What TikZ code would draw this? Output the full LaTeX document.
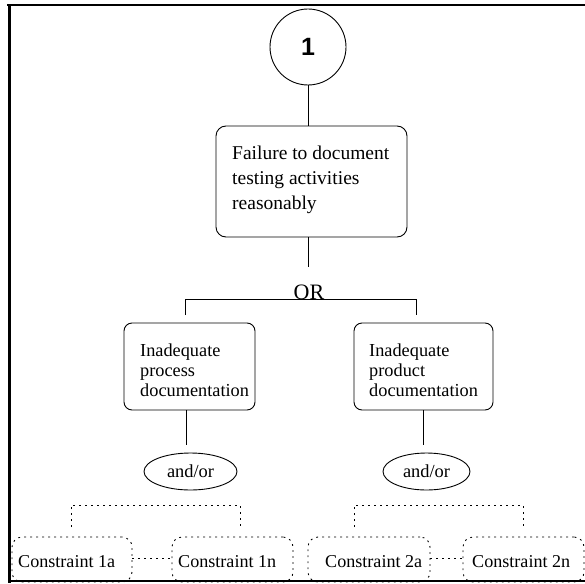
\documentclass[tikz,border=0pt]{standalone}
\usepackage{fontspec}
\setmainfont{Liberation Serif}
\newfontfamily\headsans{Liberation Sans}
\usetikzlibrary{shapes.geometric}

\tikzset{
  wire/.style={draw, line width=0.9pt},
  dotwire/.style={draw, line width=0.9pt, dash pattern=on 1.8pt off 4.2pt},
  goalbox/.style={draw, line width=0.9pt, rounded corners=10pt, inner sep=0pt},
  subbox/.style={draw, line width=0.9pt, rounded corners=8pt, inner sep=0pt},
  consbox/.style={draw, line width=0.9pt, dash pattern=on 1.8pt off 4.2pt,
                  rounded corners=10pt, inner sep=0pt},
  gate/.style={draw, ellipse, line width=0.9pt, inner sep=0pt,
               font=\fontsize{18.4}{20}\selectfont},
  bigtext/.style={inner sep=0pt, align=left,
                  font=\fontsize{19.5}{25}\selectfont},
  midtext/.style={inner sep=0pt, align=left,
                  font=\fontsize{18.3}{20.3}\selectfont},
  constext/.style={inner sep=0pt, font=\fontsize{18.1}{20}\selectfont},
  frameline/.style={draw, line cap=rect},
}

\begin{document}
\begin{tikzpicture}[x=1pt,y=-1pt]
\useasboundingbox (0,0) rectangle (585,583);

% top event
\node[draw, circle, line width=0.9pt, minimum size=76pt, inner sep=0pt,
      font=\headsans\bfseries\fontsize{25}{28}\selectfont] (top) at (308,47) {1};

% main failure box
\node[goalbox, minimum width=191pt, minimum height=111pt] (goal) at (311.5,181.5) {};
\node[bigtext, anchor=north west] (goaltxt) at (232,145.5)
  {Failure to document\\testing activities\\reasonably};

% OR gate
\node[inner sep=0pt, anchor=base, font=\fontsize{22}{24}\selectfont] (orgate) at (309,299.5) {OR};
\coordinate (orin) at (308,267);
\coordinate (barL) at (185,299);
\coordinate (barR) at (416,299);
\coordinate (dropL) at (185,315);
\coordinate (dropR) at (416,315);

% second level
\node[subbox, minimum width=131pt, minimum height=87pt] (proc) at (189.5,366.5) {};
\node[midtext, anchor=north west] (proctxt) at (140,343.3)
  {Inadequate\\process\\documentation};
\node[subbox, minimum width=139pt, minimum height=87pt] (prod) at (423.5,366.5) {};
\node[midtext, anchor=north west] (prodtxt) at (369,343.3)
  {Inadequate\\product\\documentation};

% and/or gates
\coordinate (procout) at (186,445);
\coordinate (prodout) at (423,445);
\node[gate, minimum width=93pt, minimum height=37pt] (gateL) at (190.5,471.5) {and/or};
\node[gate, minimum width=87pt, minimum height=37pt] (gateR) at (426.5,471.5) {and/or};

% dotted brackets
\coordinate (bLa) at (71,527);
\coordinate (bLb) at (71,505);
\coordinate (bLc) at (240,505);
\coordinate (bLd) at (240,527);
\coordinate (bRa) at (354,527);
\coordinate (bRb) at (354,505);
\coordinate (bRc) at (523,505);
\coordinate (bRd) at (523,527);

% constraints
\node[consbox, minimum width=120pt, minimum height=45pt] (c1a) at (72,559.5) {};
\node[constext, anchor=base west] (t1a) at (18,567) {Constraint 1a};
\node[consbox, minimum width=121pt, minimum height=45pt] (c1n) at (232.5,559.5) {};
\node[constext, anchor=base west] (t1n) at (178,567) {Constraint 1n};
\node[consbox, minimum width=122pt, minimum height=45pt] (c2a) at (369,559.5) {};
\node[constext, anchor=base west] (t2a) at (325,567) {Constraint 2a};
\node[consbox, minimum width=121pt, minimum height=45pt] (c2n) at (523.5,559.5) {};
\node[constext, anchor=base west] (t2n) at (472,567) {Constraint 2n};

% connectors
\draw[wire] (top.south) -- (top.south |- goal.north);
\draw[wire] (goal.south -| top.south) -- (orin);
\draw[wire] (dropL) -- (barL) -- (barR) -- (dropR);
\draw[wire] (proc.south -| procout) -- (procout);
\draw[wire] (prod.south -| prodout) -- (prodout);
\draw[dotwire] (bLa) -- (bLb) -- (bLc) -- (bLd);
\draw[dotwire] (bRa) -- (bRb) -- (bRc) -- (bRd);
\draw[dotwire] (c1a.east |- 0,558) -- (c1n.west |- 0,558);
\draw[dotwire] (c2a.east |- 0,558) -- (c2n.west |- 0,558);

% page frame
\draw[frameline, line width=2pt] (8,5.5) -- (585,5.5);
\draw[frameline, line width=3pt] (9,5.5) -- (9,581);
\draw[frameline, line width=2.5pt] (9,581) -- (585,581);
\end{tikzpicture}
\end{document}
